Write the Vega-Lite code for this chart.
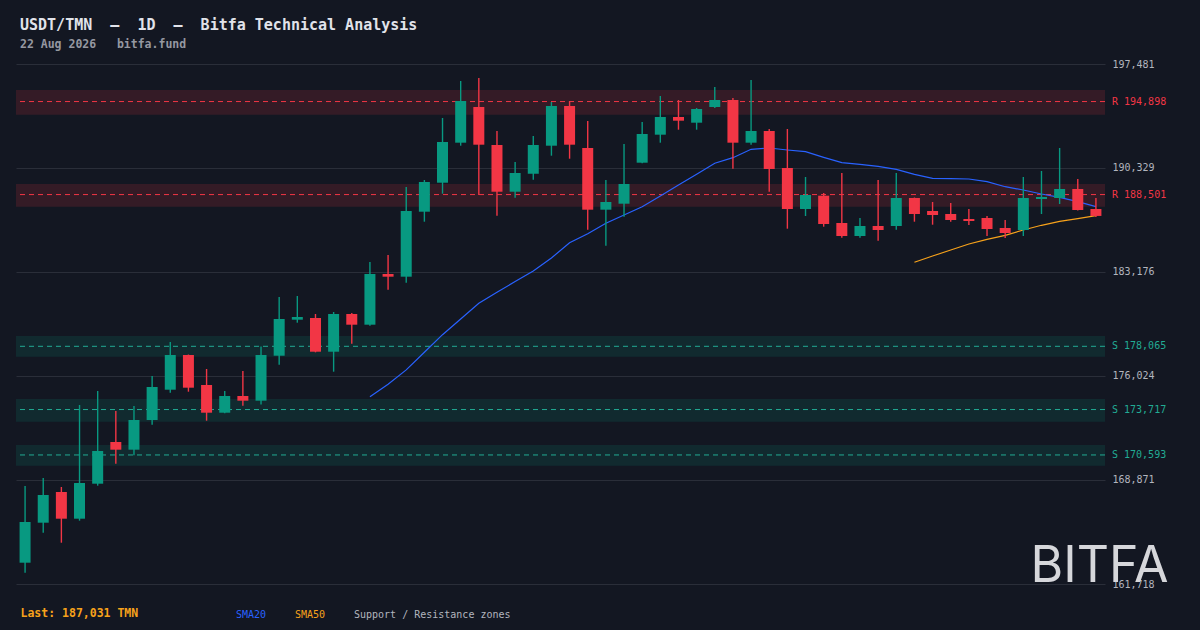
{
  "$schema": "https://vega.github.io/schema/vega-lite/v6.json",
  "autosize": {"type": "none"},
  "width": 1089,
  "height": 520,
  "padding": {"left": 16, "top": 64, "right": 95, "bottom": 46},
  "background": "#131722",
  "title": {
    "text": "USDT/TMN\u00a0\u00a0—\u00a0\u00a01D\u00a0\u00a0—\u00a0\u00a0Bitfa Technical Analysis",
    "subtitle": "22 Aug 2026\u00a0\u00a0\u00a0bitfa.fund",
    "anchor": "start",
    "frame": "group",
    "dx": 4,
    "offset": 9,
    "font": "DejaVu Sans Mono",
    "fontSize": 15,
    "fontWeight": "bold",
    "color": "#e1e3ea",
    "subtitleFont": "DejaVu Sans Mono",
    "subtitleFontSize": 11.5,
    "subtitleFontWeight": "bold",
    "subtitleColor": "#9598a1",
    "subtitlePadding": 6
  },
  "datasets": {
    "candles": [
      {"i": 0, "o": 163183, "h": 168458, "l": 162495, "c": 165982},
      {"i": 1, "o": 165934, "h": 169008, "l": 165246, "c": 167839},
      {"i": 2, "o": 168046, "h": 168389, "l": 164558, "c": 166209},
      {"i": 3, "o": 166209, "h": 174029, "l": 166072, "c": 168664},
      {"i": 4, "o": 168616, "h": 174992, "l": 168479, "c": 170865},
      {"i": 5, "o": 171484, "h": 173616, "l": 169992, "c": 170955},
      {"i": 6, "o": 170955, "h": 173960, "l": 170569, "c": 172997},
      {"i": 7, "o": 172997, "h": 176023, "l": 172674, "c": 175267},
      {"i": 8, "o": 175081, "h": 178362, "l": 174875, "c": 177468},
      {"i": 9, "o": 177468, "h": 177500, "l": 174944, "c": 175219},
      {"i": 10, "o": 175404, "h": 176505, "l": 172949, "c": 173499},
      {"i": 11, "o": 173499, "h": 174992, "l": 173460, "c": 174648},
      {"i": 12, "o": 174648, "h": 176368, "l": 173981, "c": 174325},
      {"i": 13, "o": 174325, "h": 178052, "l": 174063, "c": 177468},
      {"i": 14, "o": 177419, "h": 181456, "l": 176800, "c": 179943},
      {"i": 15, "o": 179895, "h": 181525, "l": 179689, "c": 180081},
      {"i": 16, "o": 180012, "h": 180287, "l": 177650, "c": 177694},
      {"i": 17, "o": 177694, "h": 180425, "l": 176319, "c": 180287},
      {"i": 18, "o": 180287, "h": 180356, "l": 178245, "c": 179551},
      {"i": 19, "o": 179551, "h": 183864, "l": 179483, "c": 183038},
      {"i": 20, "o": 183038, "h": 184345, "l": 181959, "c": 182853},
      {"i": 21, "o": 182853, "h": 189022, "l": 182440, "c": 187371},
      {"i": 22, "o": 187323, "h": 189503, "l": 186635, "c": 189366},
      {"i": 23, "o": 189317, "h": 193767, "l": 188561, "c": 192117},
      {"i": 24, "o": 192069, "h": 196312, "l": 191863, "c": 194936},
      {"i": 25, "o": 194524, "h": 196518, "l": 188472, "c": 191931},
      {"i": 26, "o": 191910, "h": 192873, "l": 187049, "c": 188698},
      {"i": 27, "o": 188698, "h": 190741, "l": 188286, "c": 189985},
      {"i": 28, "o": 189937, "h": 192529, "l": 189525, "c": 191910},
      {"i": 29, "o": 191862, "h": 194867, "l": 191174, "c": 194592},
      {"i": 30, "o": 194592, "h": 194936, "l": 190968, "c": 191931},
      {"i": 31, "o": 191704, "h": 193561, "l": 186085, "c": 187461},
      {"i": 32, "o": 187461, "h": 189503, "l": 184985, "c": 187990},
      {"i": 33, "o": 187873, "h": 191979, "l": 186979, "c": 189228},
      {"i": 34, "o": 190693, "h": 193492, "l": 190650, "c": 192667},
      {"i": 35, "o": 192619, "h": 195280, "l": 192069, "c": 193836},
      {"i": 36, "o": 193836, "h": 195005, "l": 192963, "c": 193582},
      {"i": 37, "o": 193444, "h": 194455, "l": 192963, "c": 194386},
      {"i": 38, "o": 194524, "h": 195899, "l": 194455, "c": 195005},
      {"i": 39, "o": 195005, "h": 195143, "l": 190280, "c": 192069},
      {"i": 40, "o": 192069, "h": 196381, "l": 191931, "c": 192873},
      {"i": 41, "o": 192873, "h": 193011, "l": 188698, "c": 190260},
      {"i": 42, "o": 190328, "h": 193011, "l": 186154, "c": 187509},
      {"i": 43, "o": 187509, "h": 189709, "l": 187027, "c": 188472},
      {"i": 44, "o": 188423, "h": 188609, "l": 186291, "c": 186477},
      {"i": 45, "o": 186546, "h": 189985, "l": 185535, "c": 185652},
      {"i": 46, "o": 185652, "h": 186890, "l": 185535, "c": 186339},
      {"i": 47, "o": 186339, "h": 189503, "l": 185329, "c": 186064},
      {"i": 48, "o": 186339, "h": 189985, "l": 186085, "c": 188265},
      {"i": 49, "o": 188265, "h": 188300, "l": 186635, "c": 187165},
      {"i": 50, "o": 187371, "h": 187990, "l": 186429, "c": 187096},
      {"i": 51, "o": 187165, "h": 187921, "l": 186635, "c": 186752},
      {"i": 52, "o": 186821, "h": 187509, "l": 186408, "c": 186683},
      {"i": 53, "o": 186890, "h": 187027, "l": 185652, "c": 186133},
      {"i": 54, "o": 186202, "h": 186752, "l": 185514, "c": 185858},
      {"i": 55, "o": 186064, "h": 189709, "l": 185652, "c": 188265},
      {"i": 56, "o": 188196, "h": 190122, "l": 187165, "c": 188334},
      {"i": 57, "o": 188265, "h": 191704, "l": 187852, "c": 188884},
      {"i": 58, "o": 188884, "h": 189572, "l": 187400, "c": 187440},
      {"i": 59, "o": 187509, "h": 188265, "l": 186958, "c": 187031}
    ],
    "sma": [
      {"i": 19, "series": "SMA20", "v": 174600},
      {"i": 20, "series": "SMA20", "v": 175452},
      {"i": 21, "series": "SMA20", "v": 176443},
      {"i": 22, "series": "SMA20", "v": 177653},
      {"i": 23, "series": "SMA20", "v": 178864},
      {"i": 24, "series": "SMA20", "v": 179943},
      {"i": 25, "series": "SMA20", "v": 181023},
      {"i": 26, "series": "SMA20", "v": 181787},
      {"i": 27, "series": "SMA20", "v": 182516},
      {"i": 28, "series": "SMA20", "v": 183245},
      {"i": 29, "series": "SMA20", "v": 184139},
      {"i": 30, "series": "SMA20", "v": 185191},
      {"i": 31, "series": "SMA20", "v": 185810},
      {"i": 32, "series": "SMA20", "v": 186525},
      {"i": 33, "series": "SMA20", "v": 187096},
      {"i": 34, "series": "SMA20", "v": 187667},
      {"i": 35, "series": "SMA20", "v": 188403},
      {"i": 36, "series": "SMA20", "v": 189159},
      {"i": 37, "series": "SMA20", "v": 189895},
      {"i": 38, "series": "SMA20", "v": 190652},
      {"i": 39, "series": "SMA20", "v": 191037},
      {"i": 40, "series": "SMA20", "v": 191615},
      {"i": 41, "series": "SMA20", "v": 191704},
      {"i": 42, "series": "SMA20", "v": 191566},
      {"i": 43, "series": "SMA20", "v": 191449},
      {"i": 44, "series": "SMA20", "v": 191064},
      {"i": 45, "series": "SMA20", "v": 190693},
      {"i": 46, "series": "SMA20", "v": 190583},
      {"i": 47, "series": "SMA20", "v": 190445},
      {"i": 48, "series": "SMA20", "v": 190239},
      {"i": 49, "series": "SMA20", "v": 189895},
      {"i": 50, "series": "SMA20", "v": 189620},
      {"i": 51, "series": "SMA20", "v": 189592},
      {"i": 52, "series": "SMA20", "v": 189572},
      {"i": 53, "series": "SMA20", "v": 189386},
      {"i": 54, "series": "SMA20", "v": 189042},
      {"i": 55, "series": "SMA20", "v": 188815},
      {"i": 56, "series": "SMA20", "v": 188540},
      {"i": 57, "series": "SMA20", "v": 188313},
      {"i": 58, "series": "SMA20", "v": 188011},
      {"i": 59, "series": "SMA20", "v": 187667},
      {"i": 49, "series": "SMA50", "v": 183843},
      {"i": 50, "series": "SMA50", "v": 184276},
      {"i": 51, "series": "SMA50", "v": 184689},
      {"i": 52, "series": "SMA50", "v": 185102},
      {"i": 53, "series": "SMA50", "v": 185425},
      {"i": 54, "series": "SMA50", "v": 185700},
      {"i": 55, "series": "SMA50", "v": 186064},
      {"i": 56, "series": "SMA50", "v": 186388},
      {"i": 57, "series": "SMA50", "v": 186663},
      {"i": 58, "series": "SMA50", "v": 186842},
      {"i": 59, "series": "SMA50", "v": 187048}
    ],
    "zones": [
      {"level": 194898, "lo": 193994, "hi": 195693, "kind": "R", "label": "R 194,898"},
      {"level": 188501, "lo": 187667, "hi": 189228, "kind": "R", "label": "R 188,501"},
      {"level": 178065, "lo": 177351, "hi": 178774, "kind": "S", "label": "S 178,065"},
      {"level": 173717, "lo": 172880, "hi": 174442, "kind": "S", "label": "S 173,717"},
      {"level": 170593, "lo": 169854, "hi": 171278, "kind": "S", "label": "S 170,593"}
    ]
  },
  "layer": [
    {
      "data": {"name": "zones"},
      "mark": {"type": "rect", "opacity": 0.15},
      "encoding": {
        "y": {
          "field": "lo", "type": "quantitative", "title": null,
          "scale": {"domain": [161718, 197481], "nice": false, "zero": false, "padding": 0},
          "axis": {
            "orient": "right",
            "values": [161718, 168871, 176024, 183176, 190329, 197481],
            "format": ",d"
          }
        },
        "y2": {"field": "hi"},
        "color": {
          "condition": {"test": "datum.kind == 'R'", "value": "#f23645"},
          "value": "#089981"
        }
      }
    },
    {
      "data": {"name": "zones"},
      "mark": {"type": "rule", "strokeDash": [5, 4], "strokeWidth": 1},
      "encoding": {
        "y": {"field": "level", "type": "quantitative", "title": null},
        "color": {
          "condition": {"test": "datum.kind == 'R'", "value": "#f23645"},
          "value": "#22ab94"
        }
      }
    },
    {
      "data": {"name": "sma"},
      "mark": {"type": "line", "strokeWidth": 1.2},
      "encoding": {
        "x": {
          "field": "i", "type": "quantitative", "title": "Last: 187,031 TMN",
          "scale": {"domain": [-0.5, 59.5], "nice": false, "zero": false, "padding": 0}
        },
        "y": {"field": "v", "type": "quantitative", "title": null},
        "color": {
          "field": "series", "type": "nominal",
          "scale": {
            "domain": ["SMA20", "SMA50", "Support / Resistance zones"],
            "range": ["#2962ff", "#f7a21b", "#b2b5be"]
          },
          "legend": {
            "orient": "none",
            "legendX": 210,
            "legendY": 546,
            "direction": "horizontal",
            "title": null,
            "symbolSize": 0,
            "symbolStrokeWidth": 0,
            "symbolOpacity": 0,
            "labelOffset": 0,
            "columnPadding": 18,
            "labelFont": "DejaVu Sans Mono",
            "labelFontSize": 10,
            "labelColor": {"expr": "datum.label == 'SMA20' ? '#2962ff' : datum.label == 'SMA50' ? '#f7a21b' : '#b2b5be'"}
          }
        }
      }
    },
    {
      "data": {"name": "candles"},
      "mark": {"type": "rule", "strokeWidth": 1.4},
      "encoding": {
        "x": {"field": "i", "type": "quantitative", "title": "Last: 187,031 TMN"},
        "y": {"field": "l", "type": "quantitative", "title": null},
        "y2": {"field": "h"},
        "color": {
          "condition": {"test": "datum.c >= datum.o", "value": "#089981"},
          "value": "#f23645"
        }
      }
    },
    {
      "data": {"name": "candles"},
      "mark": {"type": "bar", "size": 11},
      "encoding": {
        "x": {"field": "i", "type": "quantitative", "title": "Last: 187,031 TMN"},
        "y": {"field": "o", "type": "quantitative", "title": null},
        "y2": {"field": "c"},
        "color": {
          "condition": {"test": "datum.c >= datum.o", "value": "#089981"},
          "value": "#f23645"
        }
      }
    },
    {
      "data": {"name": "zones"},
      "mark": {"type": "text", "align": "left", "baseline": "middle", "dx": 7, "font": "DejaVu Sans Mono", "fontSize": 10},
      "encoding": {
        "x": {"datum": 59.5, "type": "quantitative", "title": "Last: 187,031 TMN"},
        "y": {"field": "level", "type": "quantitative", "title": null},
        "text": {"field": "label"},
        "color": {
          "condition": {"test": "datum.kind == 'R'", "value": "#f23645"},
          "value": "#22ab94"
        }
      }
    },
    {
      "data": {"values": [{"brand": "BITFA"}]},
      "mark": {"type": "text", "align": "left", "baseline": "alphabetic", "font": "Inter", "fontSize": 50, "color": "#d6d7db"},
      "encoding": {
        "x": {"datum": 55.4, "type": "quantitative", "title": "Last: 187,031 TMN"},
        "y": {"datum": 161855, "type": "quantitative", "title": null},
        "text": {"field": "brand"}
      }
    }
  ],
  "config": {
    "view": {"stroke": null},
    "axisY": {
      "grid": true,
      "gridColor": "#2a2e39",
      "gridWidth": 1,
      "domain": false,
      "ticks": false,
      "labelPadding": 7,
      "labelFont": "DejaVu Sans Mono",
      "labelFontSize": 10,
      "labelColor": "#b2b5be"
    },
    "axisX": {
      "grid": false,
      "domain": false,
      "ticks": false,
      "labels": false,
      "titleFont": "DejaVu Sans Mono",
      "titleFontSize": 11.5,
      "titleFontWeight": "bold",
      "titleColor": "#f7a21b",
      "titleAnchor": "start",
      "titleAlign": "left",
      "titleX": 4,
      "titlePadding": 23
    }
  }
}
